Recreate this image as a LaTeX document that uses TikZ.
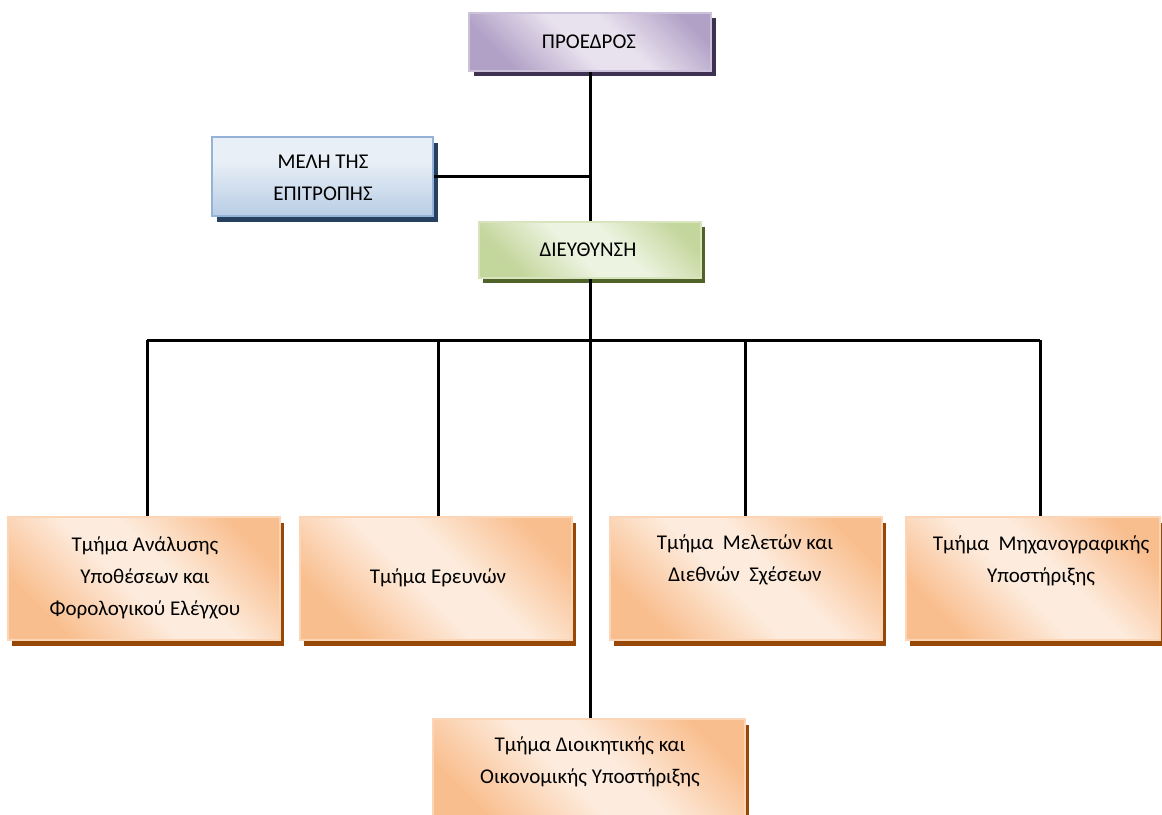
\documentclass[tikz,border=0pt]{standalone}
\usepackage{fontspec}
\setmainfont{Carlito}
\usetikzlibrary{shadows}

% box colours
\definecolor{orDark}{RGB}{249,190,142}
\definecolor{orLight}{RGB}{253,236,222}
\definecolor{orLine}{RGB}{251,213,181}
\definecolor{orShadow}{RGB}{152,72,6}
\definecolor{puDark}{RGB}{178,161,199}
\definecolor{puLight}{RGB}{232,226,238}
\definecolor{puLine}{RGB}{204,193,218}
\definecolor{puShadow}{RGB}{63,49,81}
\definecolor{blDark}{RGB}{185,205,229}
\definecolor{blLight}{RGB}{232,239,247}
\definecolor{blLine}{RGB}{149,179,215}
\definecolor{blShadow}{RGB}{37,64,97}
\definecolor{grDark}{RGB}{195,214,155}
\definecolor{grLight}{RGB}{237,243,225}
\definecolor{grLine}{RGB}{215,228,189}
\definecolor{grShadow}{RGB}{79,98,40}

% diagonal band shadings: darker corners, light band across the middle
\pgfdeclarehorizontalshading{orBand}{100bp}{color(0bp)=(orDark); color(26bp)=(orDark); color(46bp)=(orLight); color(56bp)=(orLight); color(76bp)=(orDark); color(100bp)=(orDark)}
\pgfdeclarehorizontalshading{puBand}{100bp}{color(0bp)=(puDark); color(26bp)=(puDark); color(46bp)=(puLight); color(58bp)=(puLight); color(78bp)=(puDark); color(100bp)=(puDark)}
\pgfdeclarehorizontalshading{grBand}{100bp}{color(0bp)=(grDark); color(26bp)=(grDark); color(46bp)=(grLight); color(58bp)=(grLight); color(78bp)=(grDark); color(100bp)=(grDark)}
\pgfdeclareverticalshading{blBand}{100bp}{color(0bp)=(blDark); color(25bp)=(blDark); color(60bp)=(blLight); color(100bp)=(blLight)}

\tikzset{
  box/.style={rectangle, inner sep=0pt, line width=1.5pt},
  orbox/.style={box, draw=orLine, shading=orBand, shading angle=45,
    drop shadow={shadow xshift=4pt, shadow yshift=-6pt, opacity=1, fill=orShadow}},
  pubox/.style={box, draw=puLine, shading=puBand, shading angle=45,
    drop shadow={shadow xshift=5pt, shadow yshift=-5pt, opacity=1, fill=puShadow}},
  grbox/.style={box, draw=grLine, shading=grBand, shading angle=45,
    drop shadow={shadow xshift=4pt, shadow yshift=-5pt, opacity=1, fill=grShadow}},
  blbox/.style={box, draw=blLine, shading=blBand,
    drop shadow={shadow xshift=5pt, shadow yshift=-6pt, opacity=1, fill=blShadow}},
  label/.style={align=center, inner sep=0pt, font=\fontsize{21}{32}\selectfont},
  link/.style={line width=3pt, black}
}

\begin{document}
\begin{tikzpicture}[x=1pt, y=-1pt]
  \useasboundingbox (0,0) rectangle (1162,814);
  \clip (0,0) rectangle (1162,814);

  % junction points of the connector bus
  \coordinate (bus) at (590,340);
  \coordinate (d1) at (147,340);
  \coordinate (d2) at (438,340);
  \coordinate (d3) at (745,340);
  \coordinate (d4) at (1040,340);

  % boxes
  \node[pubox, minimum width=242pt, minimum height=58pt] (pres) at (590,42) {};
  \node[blbox, minimum width=221pt, minimum height=79pt] (mel) at (322.5,176.5) {};
  \node[grbox, minimum width=222pt, minimum height=56pt] (dir) at (590,250) {};
  \node[orbox, minimum width=272pt, minimum height=123pt] (t1) at (144,578.5) {};
  \node[orbox, minimum width=272pt, minimum height=123pt] (t2) at (436,578.5) {};
  \node[orbox, minimum width=272pt, minimum height=123pt] (t3) at (746,578.5) {};
  \node[orbox, minimum width=254pt, minimum height=123pt] (t4) at (1033,578.5) {};
  \node[orbox, minimum width=312pt, minimum height=111pt] (t5) at (589,774.5) {};

  % connectors
  \draw[link] (pres.south) -- (dir.north);
  \draw[link] (mel.east) -- (mel.east -| pres.south);
  \draw[link] (dir.south) -- (dir.south |- t5.north);
  \draw[link] (d1) -- (d4);
  \draw[link] (d1) -- (d1 |- t1.north);
  \draw[link] (d2) -- (d2 |- t2.north);
  \draw[link] (d3) -- (d3 |- t3.north);
  \draw[link] (d4) -- (d4 |- t4.north);

  % texts
  \node[label] (presT) at (589,42) {ΠΡΟΕΔΡΟΣ};
  \node[label] (melT) at (323,178) {ΜΕΛΗ ΤΗΣ\\ΕΠΙΤΡΟΠΗΣ};
  \node[label] (dirT) at (588,250) {ΔΙΕΥΘΥΝΣΗ};
  \node[label] (t1T) at (145,578) {Τμήμα Ανάλυσης\\Υποθέσεων και\\Φορολογικού Ελέγχου};
  \node[label] (t2T) at (438,578) {Τμήμα Ερευνών};
  \node[label] (t3T) at (745,560) {Τμήμα\ \ Μελετών και\\Διεθνών\ \ Σχέσεων};
  \node[label] (t4T) at (1041,561) {Τμήμα\ \ Μηχανογραφικής\\Υποστήριξης};
  \node[label] (t5T) at (590,762) {Τμήμα Διοικητικής και\\Οικονομικής Υποστήριξης};
\end{tikzpicture}
\end{document}
